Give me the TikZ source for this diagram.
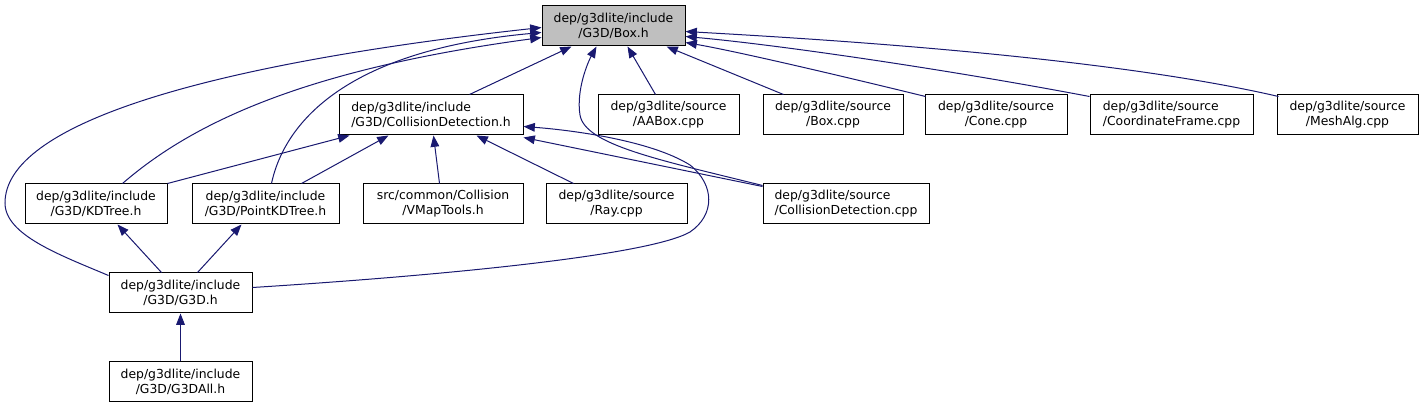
\documentclass[tikz,border=0pt]{standalone}
\usepackage{fontspec}
\setmainfont{DejaVu Sans}
\usetikzlibrary{arrows.meta,calc}
\definecolor{edgec}{HTML}{191970}
\definecolor{hl}{HTML}{BFBFBF}
\begin{document}
\begin{tikzpicture}[x=0.75pt,y=-0.75pt,
 nd/.style={draw=black,line width=0.75pt,fill=white,minimum height=30pt,inner sep=0pt,align=center,font=\fontsize{9.3}{11.25}\selectfont},
 wd/.style={minimum width=#1*0.75pt},
 e/.style={draw=edgec,line width=0.75pt,-{Triangle[length=8.5pt,width=6.5pt]}}]
\useasboundingbox[fill=white] (0,0) rectangle (1424,409);
\node[nd,wd=143,fill=hl] (box) at (613.5,26) {dep/g3dlite/include\\/G3D/Box.h};
\node[nd,wd=184,align=left] (cdh) at (431,115) {dep/g3dlite/include\\/G3D/CollisionDetection.h};
\node[nd,wd=141] (aabox) at (668.5,115) {dep/g3dlite/source\\/AABox.cpp};
\node[nd,wd=140] (boxcpp) at (833,115) {dep/g3dlite/source\\/Box.cpp};
\node[nd,wd=142] (cone) at (996,115) {dep/g3dlite/source\\/Cone.cpp};
\node[nd,wd=163,align=left] (cf) at (1171.5,115) {dep/g3dlite/source\\/CoordinateFrame.cpp};
\node[nd,wd=141] (mesh) at (1347.5,115) {dep/g3dlite/source\\/MeshAlg.cpp};
\node[nd,wd=142] (kdtree) at (96,204) {dep/g3dlite/include\\/G3D/KDTree.h};
\node[nd,wd=147] (pkd) at (265.5,204) {dep/g3dlite/include\\/G3D/PointKDTree.h};
\node[nd,wd=160] (vmap) at (443,204) {src/common/Collision\\/VMapTools.h};
\node[nd,wd=141] (ray) at (616.5,204) {dep/g3dlite/source\\/Ray.cpp};
\node[nd,wd=166,align=left] (cdcpp) at (846,204) {dep/g3dlite/source\\/CollisionDetection.cpp};
\node[nd,wd=143] (g3d) at (180.5,293) {dep/g3dlite/include\\/G3D/G3D.h};
\node[nd,wd=143] (g3dall) at (180.5,382) {dep/g3dlite/include\\/G3D/G3DAll.h};
% edges to Box.h
\draw[e] ($(cdh.north west)+(131,0)$) -- ($(box.south west)+(30,0)$);
\draw[e] ($(aabox.north west)+(58,0)$) -- ($(box.south west)+(86,0)$);
\draw[e] ($(boxcpp.north west)+(21,0)$) -- ($(box.south west)+(125,0)$);
\draw[e] ($(cone.north west)+(1,2)$) .. controls (850,78) and (740,52) .. ($(box.north east)+(0,37)$);
\draw[e] ($(cf.north west)+(0,2)$) .. controls (950,70) and (780,45) .. ($(box.north east)+(0,31)$);
\draw[e] ($(mesh.north west)+(2,2)$) .. controls (1100,55) and (800,38) .. ($(box.north east)+(0,26)$);
\draw[e] ($(kdtree.north west)+(98,0)$) .. controls (190,125) and (300,70) .. ($(box.north west)+(0,32)$);
\draw[e] ($(pkd.north west)+(80,0)$) .. controls (285,120) and (350,50) .. ($(box.north west)+(0,27)$);
\draw[e] ($(g3d.north west)+(0,3)$) .. controls (60,255) and (5,235) .. (5,203) .. controls (5,125) and (200,65) .. ($(box.north west)+(0,22)$);
\draw[e] ($(cdcpp.north west)+(0,2)$) .. controls (660,160) and (585,145) .. (580,115) .. controls (576,90) and (588,62) .. ($(box.south west)+(55,0)$);
% edges to CollisionDetection.h
\draw[e] (kdtree.north east) -- ($(cdh.south west)+(11,0)$);
\draw[e] ($(pkd.north west)+(110,0)$) -- ($(cdh.south west)+(50,0)$);
\draw[e] ($(vmap.north west)+(77,0)$) -- ($(cdh.south west)+(95,0)$);
\draw[e] ($(ray.north west)+(28,0)$) -- ($(cdh.south west)+(138,0)$);
\draw[e] ($(cdcpp.north west)+(0,3)$) -- ($(cdh.north east)+(0,43)$);
\draw[e] ($(g3d.north east)+(0,15)$) .. controls (450,275) and (650,255) .. (690,232) .. controls (715,215) and (715,185) .. (690,165) .. controls (650,140) and (570,130) .. ($(cdh.north east)+(0,32)$);
% other edges
\draw[e] ($(g3d.north west)+(53,0)$) -- ($(kdtree.south west)+(93,0)$);
\draw[e] ($(g3d.north west)+(89,0)$) -- ($(pkd.south west)+(50,0)$);
\draw[e] (g3dall.north) -- (g3d.south);
\end{tikzpicture}
\end{document}
